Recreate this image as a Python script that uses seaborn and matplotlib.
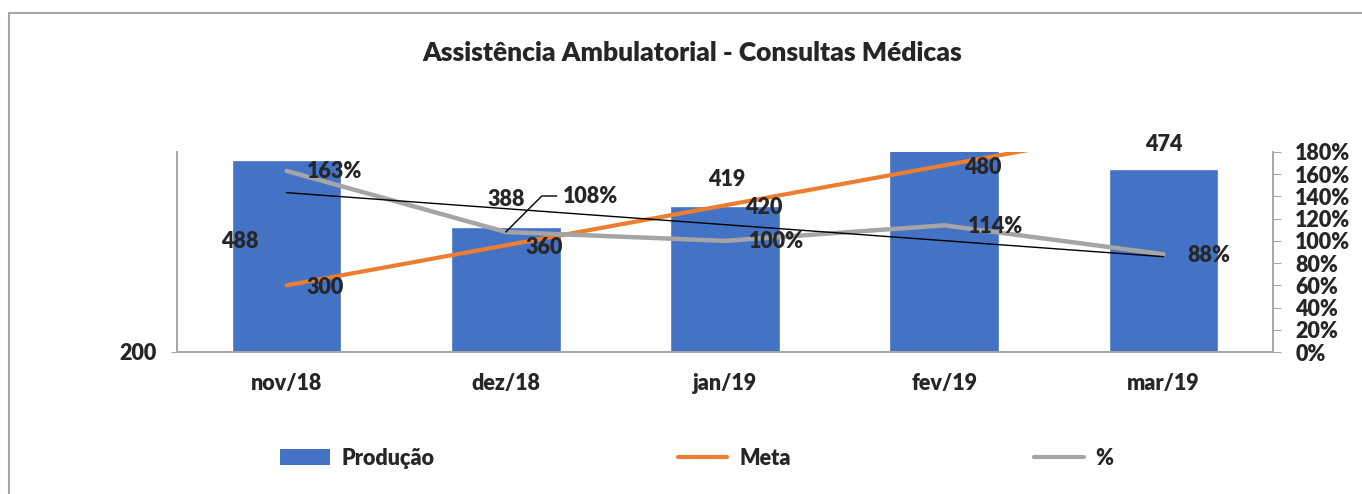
import numpy as np
import pandas as pd
import matplotlib
matplotlib.use("Agg")
import matplotlib.pyplot as plt
import seaborn as sns
from matplotlib.patches import Patch, Rectangle
from matplotlib.lines import Line2D
from matplotlib.ticker import PercentFormatter, FixedLocator, NullFormatter

# data
meses = ["nov/18", "dez/18", "jan/19", "fev/19", "mar/19"]
producao = [488, 388, 419, 547, 474]
meta = [300, 360, 420, 480, 540]
pct = [1.63, 1.08, 1.00, 1.14, 0.88]

AZUL = "#4472C4"
LARANJA = "#ED7D31"
CINZA = "#A5A5A5"
EIXO = "#A6A6A6"
PESO = "heavy"

sns.set_style("white")
plt.rcParams["font.family"] = ["Lato", "DejaVu Sans"]
plt.rcParams["font.weight"] = PESO

W, H = 1362, 494
fig = plt.figure(figsize=(W / 100, H / 100), dpi=100)
ax = fig.add_axes([177 / W, 1 - 352 / H, (1273 - 177) / W, 200 / H])

fs = 15.5

df = pd.DataFrame({"mes": meses, "producao": producao})
sns.barplot(data=df, x="mes", y="producao", color=AZUL, width=0.5,
            saturation=1, ax=ax, zorder=2)
x = np.arange(len(meses))
sns.lineplot(x=x, y=meta, color=LARANJA, lw=3, ax=ax, zorder=3)
ax.set_ylim(200, 500)
ax.set_xlim(-0.5, len(meses) - 0.5)
ax.set_xlabel("")
ax.set_ylabel("")
ax.set_yticks([200])
ax.tick_params(axis="y", length=4, color=EIXO, labelsize=fs, pad=10.5)
ax.set_xticks(x)
ax.set_xticklabels(meses)
ax.tick_params(axis="x", length=0, labelsize=fs, pad=15)
ax.xaxis.set_minor_locator(FixedLocator(np.arange(-0.5, len(meses), 1.0)))
ax.xaxis.set_minor_formatter(NullFormatter())
ax.tick_params(axis="x", which="minor", length=8, color=EIXO, width=1.2)

ax2 = ax.twinx()
sns.lineplot(x=x, y=pct, color=CINZA, lw=3.2, ax=ax2, zorder=3)
coef = np.polyfit(x, pct, 1)
ax2.plot(x, np.polyval(coef, x), color="black", lw=1, zorder=4)
ax2.set_ylim(0, 1.8)
ax2.set_yticks(np.arange(0, 1.81, 0.2))
ax2.yaxis.set_major_formatter(PercentFormatter(1.0, decimals=0))
ax2.tick_params(axis="y", length=6, color=EIXO, labelsize=fs, pad=10)
ax2.set_ylabel("")

for a in (ax, ax2):
    a.spines["top"].set_visible(False)
    for s in ("left", "right", "bottom"):
        a.spines[s].set_color(EIXO)
        a.spines[s].set_linewidth(1.2)
    for lab in a.get_xticklabels() + a.get_yticklabels():
        lab.set_fontweight(PESO)

# data labels
prod_off = [(-47, -82), (0, 27), (2, 26), (0, 26), (0, 25)]
for i, v in enumerate(producao):
    ax.annotate(f"{v}", (i, v), xytext=prod_off[i], textcoords="offset pixels",
                ha="center", va="center", fontsize=fs, fontweight=PESO)
for i, v in enumerate(meta):
    ax.annotate(f"{v}", (i, v), xytext=(20, -2), textcoords="offset pixels",
                ha="left", va="center", fontsize=fs, fontweight=PESO)
for i, v in enumerate(pct):
    txt = f"{round(v * 100)}%"
    if i == 1:
        ax2.annotate(txt, (i, v), xytext=(57, 36), textcoords="offset pixels",
                     ha="left", va="center", fontsize=fs, fontweight=PESO,
                     arrowprops=dict(arrowstyle="-", color="black", lw=1,
                                     shrinkA=2, shrinkB=0, relpos=(0, 0.5),
                                     connectionstyle="angle,angleA=0,angleB=45,rad=0"))
    else:
        ax2.annotate(txt, (i, v), xytext=(20 if i == 0 else 24, -1),
                     textcoords="offset pixels", ha="left", va="center",
                     fontsize=fs, fontweight=PESO)

fig.text(692 / W, 1 - 53 / H, "Assistência Ambulatorial - Consultas Médicas",
         ha="center", va="center", fontsize=19, fontweight=PESO)

handles = [Patch(facecolor=AZUL, edgecolor="none"),
           Line2D([], [], color=LARANJA, lw=3),
           Line2D([], [], color=CINZA, lw=3)]
fig.legend(handles, ["Produção", "Meta", "%"], loc="center left",
           bbox_to_anchor=(280 / W, 1 - 458 / H), ncol=3, frameon=False,
           borderpad=0, borderaxespad=0, fontsize=fs, handlelength=2.3,
           handletextpad=0.56, columnspacing=11.3,
           prop={"weight": PESO, "size": fs})

fig.add_artist(Rectangle((9 / W, -0.2), 1.2, 1.2 - 13 / H, transform=fig.transFigure,
                         fill=False, edgecolor=EIXO, lw=1.5))

fig.savefig("out.png", dpi=100)
